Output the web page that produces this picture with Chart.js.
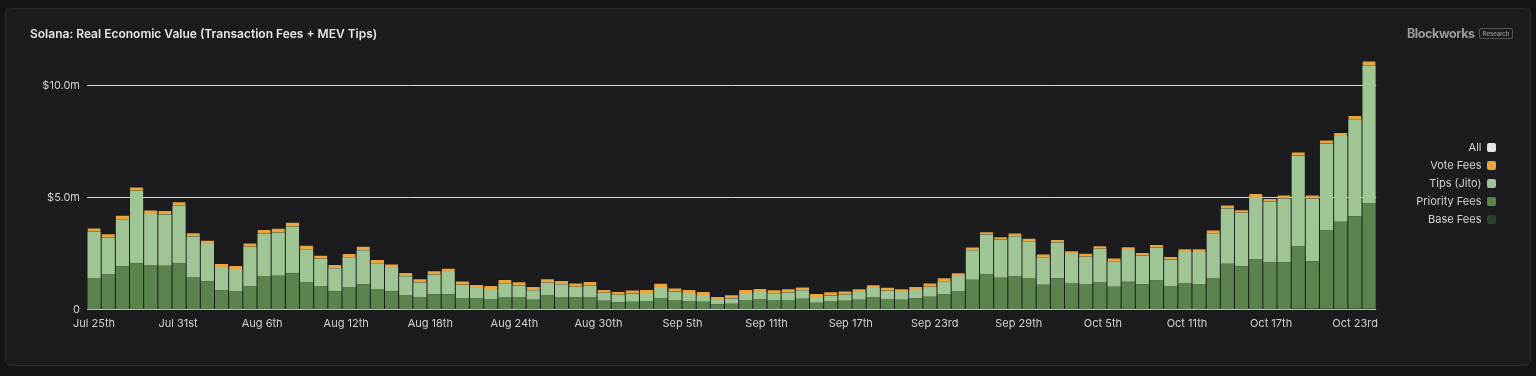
<!DOCTYPE html>
<html>
<head>
<meta charset="utf-8">
<script src="https://cdn.jsdelivr.net/npm/chart.js@4.4.1/dist/chart.umd.min.js"></script>
<style>
  body { margin: 0; width: 1536px; height: 376px; background: #141415; overflow: hidden; font-family: Inter, "Noto Sans", sans-serif; }
  #card { position: absolute; left: 5px; top: 8px; width: 1524px; height: 356px; background: #1c1c1e; border: 1px solid #2d2d30; border-radius: 6px; }
  #grafico { position: absolute; left: 5px; top: 8px; }
  #titulo { position: absolute; left: 30px; top: 26px; color: #e6e6e6; font-size: 12px; font-weight: 600; line-height: 16px; }
  #logo { position: absolute; left: 1407px; top: 26px; color: #9c9c9e; font-size: 12.5px; font-weight: 700; letter-spacing: -0.4px; line-height: 16px; }
  #logo span { display: inline-block; vertical-align: 2px; margin-left: 4px; font-size: 6px; font-weight: 500; letter-spacing: 0; line-height: 7px; padding: 1px 3px; border: 1px solid #555; border-radius: 2px; }
</style>
</head>
<body>
<div id="card"></div>
<canvas id="grafico" width="1526" height="358"></canvas>
<div id="titulo">Solana: Real Economic Value (Transaction Fees + MEV Tips)</div>
<div id="logo">Blockworks<span>Research</span></div>
<script>
const days = [
  'Jul 25','Jul 26','Jul 27','Jul 28','Jul 29','Jul 30','Jul 31',
  'Aug 1','Aug 2','Aug 3','Aug 4','Aug 5','Aug 6','Aug 7','Aug 8','Aug 9','Aug 10',
  'Aug 11','Aug 12','Aug 13','Aug 14','Aug 15','Aug 16','Aug 17','Aug 18','Aug 19','Aug 20',
  'Aug 21','Aug 22','Aug 23','Aug 24','Aug 25','Aug 26','Aug 27','Aug 28','Aug 29','Aug 30','Aug 31',
  'Sep 1','Sep 2','Sep 3','Sep 4','Sep 5','Sep 6','Sep 7','Sep 8','Sep 9','Sep 10',
  'Sep 11','Sep 12','Sep 13','Sep 14','Sep 15','Sep 16','Sep 17','Sep 18','Sep 19','Sep 20',
  'Sep 21','Sep 22','Sep 23','Sep 24','Sep 25','Sep 26','Sep 27','Sep 28','Sep 29','Sep 30',
  'Oct 1','Oct 2','Oct 3','Oct 4','Oct 5','Oct 6','Oct 7','Oct 8','Oct 9','Oct 10',
  'Oct 11','Oct 12','Oct 13','Oct 14','Oct 15','Oct 16','Oct 17','Oct 18','Oct 19','Oct 20',
  'Oct 21','Oct 22','Oct 23'
];

// valores em milhões de US$
const baseFees = [
  0.03,0.03,0.03,0.03,0.03,0.03,0.03,0.03,0.03,0.03,
  0.03,0.03,0.03,0.03,0.03,0.03,0.03,0.03,0.03,0.03,
  0.03,0.03,0.03,0.03,0.03,0.03,0.03,0.03,0.03,0.03,
  0.03,0.03,0.03,0.03,0.03,0.03,0.03,0.03,0.02,0.02,
  0.02,0.02,0.02,0.02,0.02,0.02,0.02,0.02,0.02,0.02,
  0.02,0.02,0.02,0.02,0.02,0.02,0.02,0.02,0.02,0.02,
  0.02,0.02,0.02,0.02,0.02,0.02,0.02,0.02,0.03,0.03,
  0.03,0.03,0.03,0.03,0.03,0.03,0.03,0.03,0.03,0.03,
  0.03,0.03,0.03,0.03,0.03,0.04,0.04,0.04,0.04,0.04,
  0.04
];
const priorityFees = [
  1.39,1.54,1.91,2.04,1.94,1.93,2.04,1.43,1.24,0.84,
  0.78,1.01,1.48,1.49,1.60,1.19,1.01,0.79,0.98,1.11,
  0.89,0.79,0.63,0.51,0.66,0.66,0.49,0.47,0.45,0.54,
  0.51,0.42,0.60,0.54,0.51,0.54,0.37,0.30,0.34,0.37,
  0.50,0.41,0.35,0.34,0.22,0.25,0.41,0.44,0.41,0.41,
  0.47,0.29,0.35,0.38,0.43,0.53,0.46,0.43,0.49,0.56,
  0.67,0.79,1.32,1.55,1.41,1.46,1.40,1.10,1.37,1.16,
  1.12,1.21,1.00,1.22,1.11,1.27,1.03,1.16,1.12,1.39,
  2.02,1.91,2.21,2.08,2.08,2.78,2.13,3.50,3.89,4.13,
  4.71
];
const tipsJito = [
  2.06,1.65,2.10,3.24,2.31,2.29,2.57,1.81,1.66,1.04,
  1.01,1.77,1.89,1.93,2.09,1.48,1.24,1.03,1.33,1.52,
  1.16,1.04,0.83,0.67,0.88,0.99,0.59,0.47,0.44,0.61,
  0.54,0.42,0.57,0.57,0.48,0.51,0.36,0.34,0.36,0.36,
  0.49,0.38,0.38,0.30,0.19,0.23,0.32,0.33,0.30,0.34,
  0.38,0.26,0.27,0.28,0.34,0.42,0.37,0.34,0.37,0.45,
  0.58,0.70,1.32,1.79,1.69,1.80,1.64,1.22,1.60,1.30,
  1.22,1.48,1.13,1.42,1.28,1.48,1.18,1.39,1.43,2.00,
  2.47,2.39,2.79,2.71,2.86,4.07,2.80,3.89,3.83,4.34,
  6.15
];
const voteFees = [
  0.19,0.20,0.20,0.20,0.20,0.20,0.21,0.19,0.19,0.18,
  0.18,0.19,0.21,0.21,0.21,0.20,0.18,0.19,0.19,0.20,
  0.19,0.20,0.19,0.19,0.19,0.19,0.19,0.18,0.18,0.19,
  0.19,0.19,0.20,0.19,0.19,0.20,0.17,0.17,0.18,0.18,
  0.19,0.18,0.18,0.18,0.18,0.19,0.18,0.18,0.18,0.19,
  0.17,0.18,0.18,0.18,0.17,0.17,0.17,0.17,0.18,0.18,
  0.18,0.16,0.16,0.15,0.16,0.17,0.16,0.17,0.16,0.17,
  0.17,0.16,0.17,0.17,0.16,0.16,0.16,0.17,0.17,0.16,
  0.18,0.16,0.18,0.17,0.18,0.18,0.18,0.18,0.18,0.19,
  0.23
];

const tickIdx = [0, 6, 12, 18, 24, 30, 36, 42, 48, 54, 60, 66, 72, 78, 84, 90];
const tickLabels = ['Jul 25th','Jul 31st','Aug 6th','Aug 12th','Aug 18th','Aug 24th','Aug 30th','Sep 5th',
  'Sep 11th','Sep 17th','Sep 23rd','Sep 29th','Oct 5th','Oct 11th','Oct 17th','Oct 23rd'];
const yTicks = [0, 5, 10];
const yTickLabels = ['0', '$5.0m', '$10.0m'];

const corTexto = '#d2d2d4';
const fonte = { family: 'Inter', size: 11 };
const lados = { left: 0, right: 0, top: 0, bottom: 0 };

// sobe a legenda para ficar centrada na área do gráfico
const legendaCentro = {
    id: 'legendaCentro',
    afterLayout(chart) {
        const l = chart.legend;
        const d = (l.top + l.bottom) / 2 - 175.5;
        l.top -= d;
        l.bottom -= d;
    }
};

const ctx = document.getElementById('grafico').getContext('2d');
const grafico = new Chart(ctx, {
    type: 'bar',
    data: {
        labels: days,
        datasets: [
            { label: 'Base Fees', data: baseFees, backgroundColor: '#2b4528', borderWidth: lados },
            { label: 'Priority Fees', data: priorityFees, backgroundColor: '#5a834d', borderWidth: lados },
            { label: 'Tips (Jito)', data: tipsJito, backgroundColor: '#a0c594', borderWidth: lados },
            { label: 'Vote Fees', data: voteFees, backgroundColor: '#e9a53e', borderColor: '#17171a',
              borderWidth: { left: 0, right: 0, top: 1, bottom: 0 } },
            { label: 'All', data: days.map(() => null), backgroundColor: '#e4e4e6', borderWidth: 0 }
        ]
    },
    plugins: [legendaCentro],
    options: {
        responsive: false,
        animation: false,
        devicePixelRatio: 1,
        datasets: { bar: { categoryPercentage: 1, barPercentage: 0.93, borderSkipped: false } },
        layout: { padding: { top: 47, bottom: 29.1, left: 0, right: 28 } },
        scales: {
            x: { type: 'category', display: false, stacked: true },
            xl: {
                type: 'linear', position: 'bottom', min: -0.5, max: 91.5, offset: false,
                afterBuildTicks: (s) => { s.ticks = tickIdx.map(v => ({ value: v })); },
                grid: { display: false, drawTicks: false, offset: false },
                border: { display: false },
                ticks: {
                    padding: 7, color: corTexto, font: fonte, maxRotation: 0, autoSkip: false,
                    callback: (v) => tickLabels[tickIdx.indexOf(v)]
                }
            },
            y: {
                stacked: true, min: 0, max: 11.38,
                afterBuildTicks: (s) => { s.ticks = yTicks.map(v => ({ value: v })); },
                afterFit: (s) => { s.width = 82; },
                grid: { color: '#d6d6d8', lineWidth: 1, drawTicks: false },
                border: { display: false },
                ticks: {
                    padding: 7, color: corTexto, font: fonte,
                    callback: (v) => yTickLabels[yTicks.indexOf(v)]
                }
            },
            espaco: {
                type: 'linear', position: 'right', display: true,
                grid: { display: false }, border: { display: false }, ticks: { display: false },
                afterFit: (s) => { s.width = 30; }
            }
        },
        plugins: {
            tooltip: { enabled: false },
            legend: {
                position: 'right',
                align: 'center',
                rtl: true,
                reverse: true,
                labels: {
                    boxWidth: 9, boxHeight: 9, padding: 7,
                    useBorderRadius: true, borderRadius: 2,
                    color: corTexto, font: fonte,
                    generateLabels: (chart) => Chart.defaults.plugins.legend.labels.generateLabels(chart)
                        .map(l => ({ ...l, lineWidth: 0 }))
                }
            }
        }
    }
});
</script>
</body>
</html>
